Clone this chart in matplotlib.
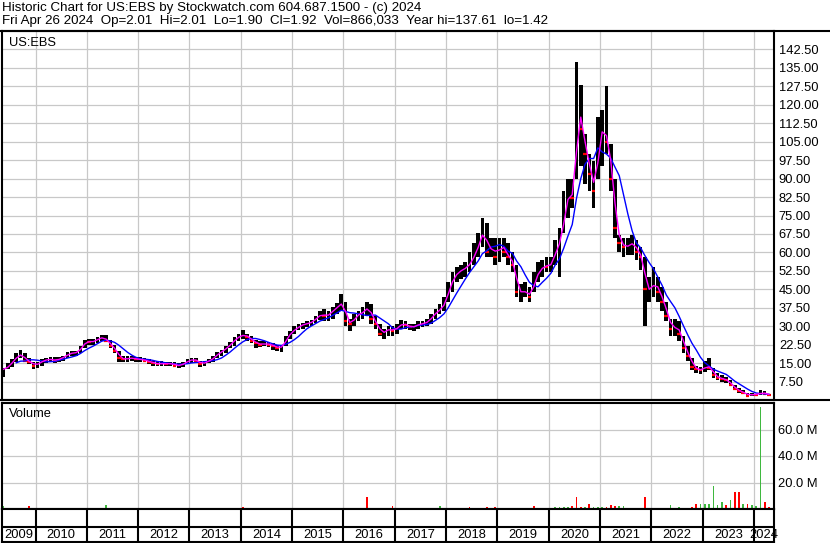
import numpy as np
import pandas as pd
import matplotlib
matplotlib.use("Agg")
import matplotlib.pyplot as plt
from matplotlib.lines import Line2D

plt.rcParams['font.family'] = ['Liberation Sans', 'DejaVu Sans']

# monthly bars, first month = May 2009
first_year, first_month = 2009, 5

high = [13, 15, 16.5, 19, 20.5, 19, 17, 15.5,
        15.5, 16.5, 17, 17.5, 17.5, 17.5, 18, 19.5, 20, 20, 22, 24.5,
        25, 25, 25.5, 26.5, 26.5, 24.5, 22.5, 20, 18, 18, 18, 17.5,
        17.5, 17, 16.5, 16, 16, 16, 15.5, 15.5, 15.5, 15, 15.5, 16.5,
        17, 17, 16, 16, 16.5, 18, 19.5, 20.5, 22, 23.5, 25.5, 27,
        28.5, 27, 26, 24.5, 24, 24, 23.5, 23, 22.5, 22.5, 26, 28,
        30, 31, 31.5, 32, 32.5, 34, 36, 37, 36, 38, 39.5, 43,
        40, 33, 35, 36, 38, 40, 39, 34, 31, 29, 30, 30,
        31, 32.5, 32, 31, 31, 32, 32, 33, 35, 37, 39, 42,
        48, 52, 54, 55, 56, 60, 64, 68, 74, 72, 66, 66,
        66, 66, 64, 60, 55, 47, 48, 46, 52, 56, 57, 58,
        58, 65, 70, 85, 90, 90, 137.6, 128, 108, 100, 97, 115,
        118, 127.5, 104, 90, 67, 66, 66, 67, 65, 62, 58, 50,
        54, 50, 46, 40, 33, 33, 32, 26, 22, 17, 14, 13.5,
        16, 17, 13, 11, 10, 9.5, 8, 6, 5, 4, 3, 2.8,
        2.6, 4, 3.6, 2.6]

low = [9.5, 12.5, 13.5, 15.5, 17, 15.5, 14.5, 12.5,
       13, 14, 15, 15.5, 15, 15.5, 16, 17, 18, 18, 19, 21,
       22.5, 22.5, 23, 24, 23.5, 21, 19, 15.5, 15.5, 15.5, 16, 15.5,
       15.5, 15.5, 14.5, 14, 14, 14, 14, 14, 13.5, 13, 13.5, 14.5,
       15, 15, 13.5, 14, 15, 15.5, 17, 18, 19, 21, 22, 24,
       25, 24, 23, 21, 21.5, 22, 21.5, 20.5, 20, 19.5, 22, 25,
       27, 28.5, 29, 29.5, 30, 31.5, 32.5, 32, 32, 33, 35, 36,
       30, 28, 30, 32, 33, 34, 31, 29, 26, 25, 26, 26,
       27, 29, 29, 28.5, 28, 29, 29.5, 30, 31, 33, 35, 36,
       40, 44, 48, 49, 50, 52, 55, 58, 62, 58, 58, 55,
       56, 58, 55, 52, 42, 40, 42, 40, 44, 48, 50, 52,
       52, 55, 50, 68, 74, 78, 90, 95, 88, 85, 78, 90,
       95, 100, 85, 66, 60, 58, 59, 59, 57, 53, 30, 40,
       42, 40, 36, 32, 26, 26, 24, 19, 16, 12, 11, 10.5,
       11.5, 12, 9, 8, 7.5, 7, 5.5, 4, 3, 2.5, 1.4, 1.5,
       1.6, 2, 2.2, 1.7]

close = [12.5, 14, 16, 18, 18.5, 16, 15.5, 14,
         15, 16, 16.5, 16.5, 16, 17, 17.5, 19, 19, 19.5, 21.5, 24,
         23.5, 24, 25, 25.5, 24, 22, 20, 17, 16.5, 17, 17, 16.5,
         16.5, 16, 15.5, 15, 14.5, 15, 14.5, 15, 14, 14, 15, 16,
         16.5, 16, 14.5, 15.5, 16, 17.5, 19, 20, 21.5, 23, 25, 26,
         26.5, 25.5, 24, 23, 22.5, 23, 22.5, 22, 21, 22, 25.5, 27.5,
         29, 30, 31, 31, 32, 33.5, 35, 34, 35, 37, 38, 40,
         32, 31, 34, 35, 36, 38, 33, 31, 27, 28, 29, 28,
         30, 31, 30.5, 29.5, 30, 31, 31, 32, 34, 36, 37, 40,
         46, 50, 52, 53, 54, 56, 60, 64, 70, 60, 63, 58,
         64, 60, 58, 55, 44, 44, 44, 42, 50, 52, 55, 54,
         56, 62, 65, 78, 85, 82, 120, 110, 100, 92, 85, 108,
         110, 105, 90, 70, 64, 62, 63, 64, 60, 58, 45, 45,
         48, 44, 40, 34, 29, 30, 27, 21, 18, 13.5, 12.5, 12,
         14, 13, 10, 9, 8.5, 8, 6, 4.5, 3.5, 2.8, 1.8, 2.4,
         2.2, 3, 2.6, 1.92]

# largest daily volume seen in each month, millions
volume = [2.3, 1.0, 0.3, 0.6, 0.3, 0.3, 2.5, 0.3,
          0.3, 0.3, 0.3, 0.3, 0.3, 0.3, 0.8, 0.3, 0.3, 0.3, 0.3, 0.3,
          0.3, 1.0, 0.3, 0.3, 3.0, 0.3, 0.3, 0.3, 0.3, 0.3, 0.3, 0.3,
          0.3, 0.3, 0.3, 0.3, 0.3, 0.8, 0.3, 0.3, 0.3, 0.3, 0.3, 0.3,
          0.3, 0.3, 0.3, 0.3, 0.3, 0.3, 0.3, 0.3, 0.3, 0.3, 1.0, 0.3,
          1.5, 0.8, 0.8, 0.3, 0.3, 0.3, 0.3, 0.3, 0.3, 0.3, 0.3, 0.3,
          0.3, 0.3, 1.0, 0.3, 0.3, 0.3, 0.3, 0.3, 0.3, 0.3, 0.8, 0.8,
          0.8, 0.8, 0.8, 0.8, 0.8, 9.1, 0.8, 0.8, 0.6, 0.6, 0.8, 2.0,
          1.0, 0.6, 0.8, 0.8, 0.6, 0.6, 0.6, 0.6, 0.8, 0.8, 2.0, 0.8,
          0.6, 0.6, 1.0, 0.6, 0.6, 1.3, 0.6, 0.6, 0.8, 1.3, 0.6, 1.3,
          0.8, 0.8, 0.8, 0.8, 0.8, 0.8, 0.8, 0.8, 2.5, 0.8, 0.8, 0.8,
          0.8, 1.5, 1.5, 1.5, 1.5, 2.0, 9.0, 1.5, 1.5, 3.5, 1.5, 1.5,
          1.5, 1.5, 3.0, 2.0, 2.0, 2.0, 1.0, 1.0, 1.0, 1.0, 9.3, 1.0,
          0.8, 0.8, 0.8, 0.8, 3.0, 1.0, 1.5, 1.0, 1.0, 1.5, 4.0, 4.0,
          4.0, 4.0, 17.0, 3.0, 5.0, 3.0, 7.0, 12.5, 13.0, 3.5, 3.5, 3.0,
          2.0, 77.0, 5.0, 1.5]

# g = up day, r = down day, one letter per month
vol_colour = ("ggggrrrr"
              "rggrrggggggg"
              "grgggrrrrggr"
              "ggrrrgrrgrgg"
              "rrgrggggrrgg"
              "rrrrgrrrrggg"
              "ggrgggrgrggg"
              "gggggrrrrrgr"
              "grrrrgrrgggr"
              "ggrggrgggrgr"
              "grrrrrggrggr"
              "gggggrrrgrgg"
              "grrrgggrgrrr"
              "rrrrgrgrrrrg"
              "gggggrgrrgrg"
              "ggrr")

years = list(range(2010, 2025))
price_ticks = np.arange(7.5, 143, 7.5)
vol_ticks = [20, 40, 60]
header1 = "Historic Chart for US:EBS by Stockwatch.com 604.687.1500 - (c) 2024"
header2 = ("Fri Apr 26 2024  Op=2.01  Hi=2.01  Lo=1.90  Cl=1.92  "
           "Vol=866,033  Year hi=137.61  lo=1.42")

n = len(close)
t = first_year + (first_month - 1 + np.arange(n) + 0.5) / 12
high = np.array(high)
low = np.array(low)
close_s = pd.Series(close)
opens = np.array([close[0]] + close[:-1])
down = close_s.values < opens
ma_fast = close_s.rolling(2, min_periods=1).mean()
ma_slow = close_s.rolling(6, min_periods=4).mean()

W, H = 830, 543
xmin, xmax = 2009.347, 2024.39
grid_c = '#c8c8c8'
green = '#3fb83f'
fs = 9.3


def box(x0, y0, x1, y1):
    return [x0 / W, 1 - y1 / H, (x1 - x0) / W, (y1 - y0) / H]


fig = plt.figure(figsize=(W / 100, H / 100), dpi=100)
ax = fig.add_axes(box(2, 31, 774, 400))
axv = fig.add_axes(box(2, 403, 774, 509))
axb = fig.add_axes(box(2, 509, 774, 542))

for a in (ax, axv, axb):
    a.set_xlim(xmin, xmax)
    for s in a.spines.values():
        s.set_linewidth(1.5)
        s.set_color('black')

# price panel
ax.set_ylim(0, 150)
ax.set_yticks(price_ticks)
ax.set_yticklabels([f"{v:.2f}" for v in price_ticks])
ax.set_xticks(years)
ax.yaxis.tick_right()
ax.tick_params(axis='y', length=0, pad=3.5, labelsize=fs)
ax.tick_params(axis='x', length=0, labelbottom=False)
ax.grid(color=grid_c, lw=0.9)
ax.set_axisbelow(True)

bw = 0.85 / 12
ax.bar(t, high - low, bottom=low, width=bw, color='black', lw=0)
ax.hlines(close_s.values[down], t[down] - bw / 2, t[down] + bw / 2,
          color='#ff0000', lw=1.6)
ax.plot(t, ma_slow, color='#0000ff', lw=1.0)
ax.plot(t, ma_fast, color='#ff00ff', lw=1.0)
ax.text(0.009, 0.967, "US:EBS", transform=ax.transAxes, fontsize=fs,
        va='center', ha='left')

# volume panel
vc = [green if c == 'g' else '#ff0000' for c in vol_colour]
axv.set_ylim(0, 80)
axv.set_yticks(vol_ticks)
axv.set_yticklabels([f"{v:.1f} M" for v in vol_ticks])
axv.set_xticks(years)
axv.yaxis.tick_right()
axv.tick_params(axis='y', length=0, pad=3, labelsize=fs)
axv.tick_params(axis='x', length=0, labelbottom=False)
axv.grid(color=grid_c, lw=0.9)
axv.set_axisbelow(True)
axv.bar(t, volume, width=0.4 / 12, color=vc, lw=0)
axv.text(0.009, 0.9, "Volume", transform=axv.transAxes, fontsize=fs,
         va='center', ha='left')

# year band
axb.set_ylim(0, 1)
axb.set_xticks([])
axb.set_yticks([])
axb.vlines(years, 0, 1, color='black', lw=1.5)
axb.axhline(15 / 33, color='black', lw=1.5)
for y in range(2009, 2025):
    lo, hi = max(y, xmin), min(y + 1, xmax)
    axb.text((lo + hi) / 2, 7.5 / 33, str(y), ha='center', va='center',
             fontsize=fs, clip_on=False)

# full-width rules and header
fig.add_artist(Line2D([0, 1], [1 - 31 / H] * 2, color='black', lw=1.5))
fig.add_artist(Line2D([0, 1], [1 - 400 / H] * 2, color='black', lw=1.5))
fig.text(2 / W, 1 - 8 / H, header1, fontsize=9.6, va='center', ha='left')
fig.text(2 / W, 1 - 21 / H, header2, fontsize=9.6, va='center', ha='left')

fig.savefig("out.png", dpi=100)
